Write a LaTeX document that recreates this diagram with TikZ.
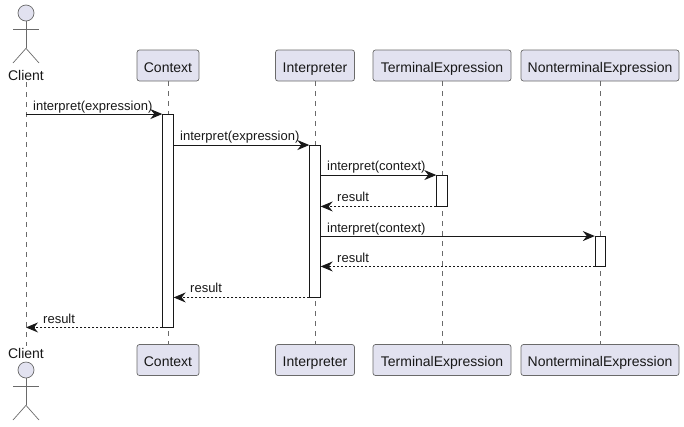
\documentclass[tikz,border=0pt]{standalone}
\usepackage{fontspec}
\setmainfont{Liberation Sans}
\usetikzlibrary{arrows.meta}
\definecolor{inkdark}{HTML}{181818}
\definecolor{inkthin}{HTML}{6A6A6A}
\definecolor{partfill}{HTML}{E2E2F0}
\tikzset{
    partbox/.style={draw=inkthin, line width=0.7pt, fill=partfill, rounded corners=2.5pt, minimum height=31pt, inner sep=0pt, text height=13pt, text depth=0pt, font=\fontsize{14}{16}\selectfont, text=inkdark},
    actorname/.style={anchor=base, inner sep=0pt, text height=12pt, text depth=2pt, font=\fontsize{14}{16}\selectfont, text=inkdark},
    actorhead/.style={circle, draw=inkthin, line width=0.7pt, fill=partfill, minimum size=16pt, inner sep=0pt},
    actorline/.style={draw=inkthin, line width=0.7pt},
    lifeline/.style={draw=inkthin, line width=0.7pt, dash pattern=on 5pt off 5pt},
    activation/.style={draw=inkdark, line width=0.9pt, fill=white, minimum width=10.5pt, inner sep=0pt},
    msgcall/.style={draw=inkdark, line width=0.9pt, -{Stealth[length=12pt, width=10pt, inset=4pt, inkdark]}},
    msgback/.style={msgcall, dash pattern=on 2pt off 2pt},
    msgtext/.style={anchor=base west, inner sep=0pt, font=\fontsize{13}{15}\selectfont, text=inkdark},
}
\begin{document}
\begin{tikzpicture}[x=1pt, y=-1pt]
    \useasboundingbox (0,0) rectangle (684,426);

    % Participants
    \foreach \name/\caption/\x/\w in {context/Context/168/62, interp/Interpreter/315/79, term/TerminalExpression/442/138, nonterm/NonterminalExpression/600/158} {
        \node[partbox, minimum width=\w pt] (\name top) at (\x,65.5) {\caption};
        \node[partbox, minimum width=\w pt] (\name bot) at (\x,360) {\caption};
        \draw[lifeline] (\name top.south) -- (\name bot.north);
    }

    % Actor
    \node[actorname] (client top) at (26,80) {Client};
    \node[actorname] (client bot) at (26,358) {Client};
    \draw[lifeline] (client top.south) -- (client bot.north);
    \foreach \side/\y in {top/13, bot/370} {
        \node[actorhead] (head \side) at (26,\y) {};
        \draw[actorline] (head \side.south) -- ++(0,27) coordinate (hip \side);
        \draw[actorline] (13,\y+16) -- (39,\y+16);
        \draw[actorline] (13,\y+50) -- (hip \side) -- (39,\y+50);
    }

    % Activations
    \node[activation, minimum height=212.5pt] (actContext) at (168,220.75) {};
    \node[activation, minimum height=151.5pt] (actInterp) at (315,221.25) {};
    \node[activation, minimum height=30.5pt] (actTerm) at (442,190.75) {};
    \node[activation, minimum height=29.5pt] (actNonterm) at (600.5,251.25) {};

    % Calls
    \draw[msgcall] (client top |- actContext.north) -- (actContext.north west);
    \draw[msgcall] (actContext.east |- actInterp.north) -- (actInterp.north west);
    \draw[msgcall] (actInterp.east |- actTerm.north) -- (actTerm.north west);
    \draw[msgcall] (actInterp.east |- actNonterm.north) -- (actNonterm.north west);

    % Returns
    \draw[msgback] (actTerm.south west) -- (actInterp.east |- actTerm.south);
    \draw[msgback] (actNonterm.south west) -- (actInterp.east |- actNonterm.south);
    \draw[msgback] (actInterp.south west) -- (actContext.east |- actInterp.south);
    \draw[msgback] (actContext.south west) -- (client top |- actContext.south);

    % Message labels
    \node[msgtext] (lblCallContext) at (33,110) {interpret(expression)};
    \node[msgtext] (lblCallInterp) at (180,140) {interpret(expression)};
    \node[msgtext] (lblCallTerm) at (327,170.5) {interpret(context)};
    \node[msgtext] (lblBackTerm) at (337,201) {result};
    \node[msgtext] (lblCallNonterm) at (327,232) {interpret(context)};
    \node[msgtext] (lblBackNonterm) at (337,262) {result};
    \node[msgtext] (lblBackInterp) at (190,292) {result};
    \node[msgtext] (lblBackContext) at (43,323) {result};
\end{tikzpicture}
\end{document}
